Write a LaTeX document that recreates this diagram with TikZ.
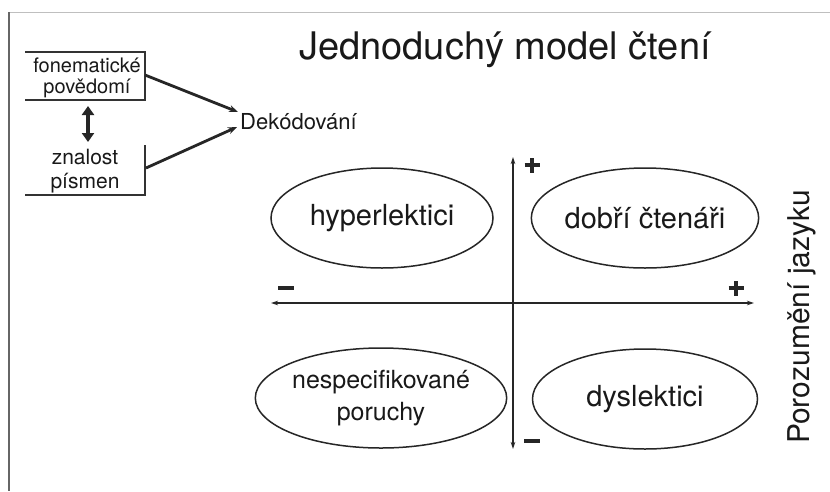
\documentclass[tikz,border=0pt]{standalone}
\usepackage{fontspec}
\setmainfont{TeX Gyre Heros}
\usetikzlibrary{arrows.meta,shapes.geometric}
\begin{document}
\begin{tikzpicture}[x=1pt,y=-1pt,
  txt/.style={inner sep=0pt, text=black!90},
  oval/.style={draw=black!85, line width=1.5pt, ellipse, minimum width=222pt, minimum height=100pt, inner sep=0pt, text=black!90},
  boxline/.style={draw=black!80, line width=1.5pt},
  feed/.style={draw=black!85, line width=2.8pt, -{Stealth[length=9pt,width=7pt]}},
  axis/.style={draw=black!85, line width=2.2pt, {Stealth[length=7pt,width=4.5pt]}-{Stealth[length=7pt,width=4.5pt]}},
  bar/.style={draw=black!85, line width=4.5pt}]
\useasboundingbox (0,0) rectangle (830,491);
\fill[white] (0,0) rectangle (830,491);
% frame edges
\draw[black!25, line width=1pt] (9,12) -- (830,12);
\draw[black!60, line width=1.4pt] (9,12) -- (9,491);

% title
\node[txt, font=\fontsize{38}{38}\selectfont] (title) at (505,50) {Jednoduchý model čtení};

% decoding inputs
\draw[boxline] (25,52) -- (145,52) -- (145,100) -- (25,100);
\draw[boxline] (145,145) -- (145,195) -- (25,195);
\node[txt, font=\fontsize{20}{20}\selectfont] (fon) at (87,65) {fonematické};
\node[txt, font=\fontsize{20}{20}\selectfont] (pov) at (87,88) {povědomí};
\node[txt, font=\fontsize{21}{21}\selectfont] (zna) at (85,157) {znalost};
\node[txt, font=\fontsize{21}{21}\selectfont] (pis) at (85,183) {písmen};
\node[txt, font=\fontsize{22}{22}\selectfont, anchor=west] (dek) at (240,122) {Dekódování};

\coordinate (fa) at (145,75);
\coordinate (za) at (146,168);
\coordinate (da) at (238,112);
\coordinate (db) at (237,127);
\draw[feed] (fa) -- (da);
\draw[feed] (za) -- (db);
\coordinate (u1) at (88,106);
\coordinate (u2) at (88,142);
\draw[draw=black!85, line width=3.8pt, {Triangle[length=9pt,width=12pt]}-{Triangle[length=9pt,width=12pt]}] (u1) -- (u2);

% quadrant axes
\coordinate (vt) at (513,157);
\coordinate (vb) at (513,449);
\coordinate (hl) at (271,303);
\coordinate (hr) at (754,303);
\draw[axis] (vb) -- (vt);
\draw[axis] (hl) -- (hr);

% plus and minus marks at the axis ends
\coordinate (pt) at (532,165);
\coordinate (pr) at (736,288);
\coordinate (mb) at (532,441);
\coordinate (ml) at (286,288);
\foreach \c in {pt,pr}{
  \draw[bar] ([xshift=-7.5pt]\c) -- ([xshift=7.5pt]\c);
  \draw[bar] ([yshift=-7.5pt]\c) -- ([yshift=7.5pt]\c);
}
\foreach \c in {mb,ml}{
  \draw[bar] ([xshift=-8pt]\c) -- ([xshift=8pt]\c);
}

% reader groups
\node[oval, font=\fontsize{29}{29}\selectfont] (hyp) at (382,218) {hyperlektici};
\node[oval, minimum width=225pt, font=\fontsize{29}{29}\selectfont] (dob) at (645,218) {dobří čtenáři};
\node[oval, minimum width=225pt, font=\fontsize{25}{32}\selectfont, align=center] (nes) at (381,398) {nespecifikované\\poruchy};
\node[oval, minimum width=225pt, font=\fontsize{29}{29}\selectfont] (dys) at (645,399) {dyslektici};

% vertical axis label
\node[txt, rotate=90, font=\fontsize{30}{30}\selectfont] (por) at (802,317) {Porozumění jazyku};
\end{tikzpicture}
\end{document}
